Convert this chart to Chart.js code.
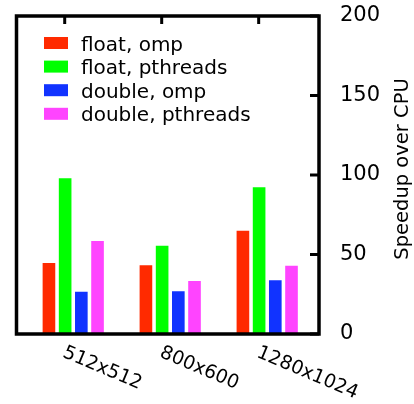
<!DOCTYPE html>
<html>
<head>
<meta charset="utf-8">
<script src="https://cdn.jsdelivr.net/npm/chart.js@4/dist/chart.umd.min.js"></script>
<style>
  html, body { margin: 0; padding: 0; background: #fff; }
  #wrap { width: 414px; height: 404px; }
</style>
</head>
<body>
<div id="wrap"><canvas id="speedupChart"></canvas></div>
<script>
// data
const sizes = ["512x512", "800x600", "1280x1024"];
const floatOmp = [44.7, 43.2, 65];
const floatPthreads = [97.9, 55.5, 92.3];
const doubleOmp = [26.6, 26.9, 33.8];
const doublePthreads = [58.5, 33.3, 43];
const seriesNames = ["float, omp", "float, pthreads", "double, omp", "double, pthreads"];
const seriesColors = ["#ff2a00", "#00ff00", "#1133ff", "#ff44ff"];
const yTicks = [0, 50, 100, 150, 200];
const yTitle = "Speedup over CPU";

const FONT = "'DejaVu Sans', sans-serif";

const toPoints = (arr) => arr.map((v, i) => ({ x: i, y: v }));
const allSeries = [floatOmp, floatPthreads, doubleOmp, doublePthreads];

// frame, inward ticks, slanted labels, legend and axis title
const framePlugin = {
  id: "frame",
  afterDraw(chart) {
    const { ctx, chartArea: a } = chart;
    const xs = chart.scales.x;
    const ys = chart.scales.y;
    ctx.save();
    ctx.strokeStyle = "#000";
    ctx.fillStyle = "#000";

    // right side ticks pointing inward
    ctx.lineWidth = 3;
    yTicks.forEach((t) => {
      const y = ys.getPixelForValue(t);
      ctx.beginPath();
      ctx.moveTo(a.right - 9, y);
      ctx.lineTo(a.right, y);
      ctx.stroke();
    });

    // top ticks at label anchors
    sizes.forEach((s, i) => {
      const x = xs.getPixelForValue(i - 0.088);
      ctx.beginPath();
      ctx.moveTo(x, a.top);
      ctx.lineTo(x, a.top + 8);
      ctx.stroke();
    });

    ctx.lineWidth = 3.5;
    ctx.strokeRect(a.left, a.top, a.right - a.left, a.bottom - a.top);

    // x labels, slanted down to the right
    ctx.font = "19px " + FONT;
    ctx.textAlign = "left";
    ctx.textBaseline = "middle";
    sizes.forEach((s, i) => {
      const x = xs.getPixelForValue(i - 0.088);
      ctx.save();
      ctx.translate(x - 1, a.bottom + 18);
      ctx.rotate((23 * Math.PI) / 180);
      ctx.fillText(s, 0, 0);
      ctx.restore();
    });

    // legend in the top-left corner
    ctx.font = "20px " + FONT;
    ctx.textBaseline = "alphabetic";
    chart.data.datasets.forEach((ds, i) => {
      const cy = a.top + 27 + i * 23.6;
      ctx.fillStyle = ds.backgroundColor;
      ctx.fillRect(44, cy - 6, 24, 12);
      ctx.fillStyle = "#000";
      ctx.fillText(ds.label, 81, cy + 7.5);
    });

    // y title, reading bottom to top
    ctx.font = "19.5px " + FONT;
    ctx.textAlign = "center";
    ctx.save();
    ctx.translate(408, 169);
    ctx.rotate(-Math.PI / 2);
    ctx.fillText(yTitle, 0, 0);
    ctx.restore();

    ctx.restore();
  },
};

const ctx = document.getElementById("speedupChart").getContext("2d");
new Chart(ctx, {
  type: "bar",
  data: {
    datasets: allSeries.map((arr, i) => ({
      label: seriesNames[i],
      data: toPoints(arr),
      backgroundColor: seriesColors[i],
      borderWidth: 0,
      categoryPercentage: 0.668,
      barPercentage: 0.78,
    })),
  },
  options: {
    responsive: true,
    maintainAspectRatio: false,
    animation: false,
    layout: { padding: { left: 16.5, top: 16, right: 0, bottom: 70 } },
    plugins: {
      legend: { display: false },
      tooltip: { enabled: false },
    },
    scales: {
      x: {
        type: "linear",
        min: -0.585,
        max: 2.534,
        offset: false,
        display: false,
        grid: { offset: false },
        afterBuildTicks(scale) {
          scale.ticks = sizes.map((s, i) => ({ value: i }));
        },
      },
      y: {
        position: "right",
        min: 0,
        max: 200,
        afterFit(scale) {
          scale.width = 95;
          scale.paddingTop = 0;
          scale.paddingBottom = 0;
        },
        afterBuildTicks(scale) {
          scale.ticks = yTicks.map((v) => ({ value: v }));
        },
        grid: { display: false, drawTicks: false },
        border: { display: false },
        ticks: {
          color: "#000",
          padding: 21,
          font: { family: FONT, size: 21 },
        },
      },
    },
  },
  plugins: [framePlugin],
});
</script>
</body>
</html>
